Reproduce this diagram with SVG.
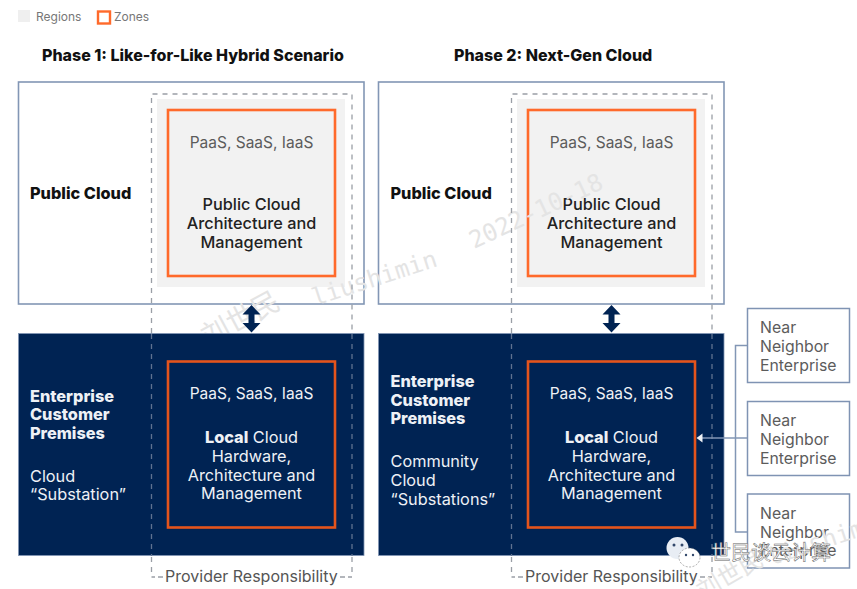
<svg xmlns="http://www.w3.org/2000/svg" width="857" height="589" viewBox="0 0 857 589">
<style>
text{font-family:"Inter","Liberation Sans",sans-serif;font-size:16.300px}
.c{text-anchor:middle}
.b{font-weight:800}
.ink{fill:#222;font-weight:500}
.grey{fill:#5c5c5c}
.w{fill:#eef1f6}
.svc{font-size:15.500px}
.nn{font-size:15.800px;fill:#5c5c5c}
.h{font-size:16px;font-weight:800;fill:#111}
.leg{font-size:12px;fill:#777}
.resp{font-size:16px;fill:#555}
.outer{fill:#fff;stroke:#8296b5;stroke-width:1.6}
.dark{fill:#002353;stroke:#8296b5;stroke-width:.8}
.region{fill:#f2f2f2}
.zone{fill:none;stroke:#ff6a2b;stroke-width:2.6}
.zoned{fill:none;stroke:#e4541c;stroke-width:2.6}
.dash{fill:none;stroke:#9a9fa6;stroke-width:1.3;stroke-dasharray:5 5}
.dashd{fill:none;stroke:#5f7290;stroke-width:1.3;stroke-dasharray:5 5}
.near{fill:#fff;stroke:#7f93b3;stroke-width:1.5}
.link{fill:none;stroke:#8296b5;stroke-width:1.5}
.mark{fill:#e4e4e4;font-family:"DejaVu Sans Mono","Noto Sans CJK SC",monospace;font-size:24px}
.dbl{fill:#002353}
</style>

<g id="legend">
<rect x="18" y="10" width="12" height="12" fill="#efefef"/>
<text class="leg" x="36" y="20.500">Regions</text>
<rect x="98" y="11.500" width="12" height="12" fill="#fff" stroke="#ff6a2b" stroke-width="2.400"/>
<text class="leg" x="114" y="20.500">Zones</text>
</g>

<text class="h" x="42" y="60.500">Phase 1: Like-for-Like Hybrid Scenario</text>
<text class="h" x="454" y="60.500">Phase 2: Next-Gen Cloud</text>

<g id="public-cloud-1">
<rect class="outer" x="18.500" y="82" width="345.500" height="222"/>
<rect class="region" x="157" y="99" width="188" height="188"/>
<rect class="zone" x="168" y="110" width="167" height="166"/>
<text class="b" fill="#111" x="30" y="198.500">Public Cloud</text>
<text class="c grey svc" x="251.500" y="147.500">PaaS, SaaS, IaaS</text>
<text class="c ink" x="251.500" y="209.500">Public Cloud</text>
<text class="c ink" x="251.500" y="229">Architecture and</text>
<text class="c ink" x="251.500" y="247.500">Management</text>
</g>

<g id="public-cloud-2">
<rect class="outer" x="378.500" y="82" width="345.500" height="222"/>
<rect class="region" x="517" y="99" width="188" height="188"/>
<rect class="zone" x="528" y="110" width="167" height="166"/>
<text class="b" fill="#111" x="390.500" y="198.500">Public Cloud</text>
<text class="c grey svc" x="611.500" y="147.500">PaaS, SaaS, IaaS</text>
<text class="c ink" x="611.500" y="209.500">Public Cloud</text>
<text class="c ink" x="611.500" y="229">Architecture and</text>
<text class="c ink" x="611.500" y="247.500">Management</text>
</g>

<!-- stamps sit under the navy panels, where they barely show -->
<g id="stamp-upper">
<text class="mark" style="font-size:28px" transform="translate(208 347) rotate(-28)">刘世民</text>
<text class="mark" transform="translate(315 306) rotate(-18)">liushimin</text>
<text class="mark" transform="translate(474 249) rotate(-25)">2022-10-18</text>
</g>

<g id="enterprise-1">
<rect class="dark" x="18.500" y="333.500" width="345.500" height="222"/>
<rect class="zoned" x="168" y="361.500" width="167" height="166"/>
<text class="b w" x="30" y="401.500">Enterprise</text>
<text class="b w" x="30" y="420">Customer</text>
<text class="b w" x="30" y="438.500">Premises</text>
<text class="w" x="30" y="481.500">Cloud</text>
<text class="w" x="30" y="500">“Substation”</text>
<text class="c w svc" x="251.500" y="399">PaaS, SaaS, IaaS</text>
<text class="c w" x="251.500" y="442.500"><tspan class="b">Local</tspan> Cloud</text>
<text class="c w" x="251.500" y="461.500">Hardware,</text>
<text class="c w" x="251.500" y="480.500">Architecture and</text>
<text class="c w" x="251.500" y="499">Management</text>
</g>

<g id="enterprise-2">
<rect class="dark" x="378.500" y="333.500" width="345.500" height="222"/>
<rect class="zoned" x="528" y="361.500" width="167" height="166"/>
<text class="b w" x="390.500" y="387">Enterprise</text>
<text class="b w" x="390.500" y="405.500">Customer</text>
<text class="b w" x="390.500" y="424">Premises</text>
<text class="w" x="390.500" y="467">Community</text>
<text class="w" x="390.500" y="486">Cloud</text>
<text class="w" x="390.500" y="504.500">“Substations”</text>
<text class="c w svc" x="611.500" y="399">PaaS, SaaS, IaaS</text>
<text class="c w" x="611.500" y="442.500"><tspan class="b">Local</tspan> Cloud</text>
<text class="c w" x="611.500" y="461.500">Hardware,</text>
<text class="c w" x="611.500" y="480.500">Architecture and</text>
<text class="c w" x="611.500" y="499">Management</text>
</g>

<g id="near-neighbor-1">
<rect class="near" x="747.500" y="308.500" width="102" height="74"/>
<text class="nn" x="760" y="333">Near</text><text class="nn" x="760" y="352">Neighbor</text><text class="nn" x="760" y="371">Enterprise</text>
</g>
<g id="near-neighbor-2">
<rect class="near" x="747.500" y="401.500" width="102" height="74"/>
<text class="nn" x="760" y="426">Near</text><text class="nn" x="760" y="444.500">Neighbor</text><text class="nn" x="760" y="463.500">Enterprise</text>
</g>
<g id="near-neighbor-3">
<rect class="near" x="747.500" y="494" width="102" height="74"/>
<text class="nn" x="760" y="519">Near</text><text class="nn" x="760" y="537.500">Neighbor</text><text class="nn" x="760" y="556">Enterprise</text>
</g>

<g id="connectors">
<!-- provider responsibility brackets: grey on the light panels, muted blue on the navy ones -->
<path class="dash" d="M151.500 333V94H352V333M511.500 333V94H712V333"/>
<path class="dashd" d="M151.500 334V556M352 334V556M511.500 334V556M712 334V556"/>
<path class="dash" d="M151.500 557V572M352 557V572M511.500 557V572M712 557V572"/>
<path d="M151.500 577H155M158 577H163M340 577H345M348 577H352M511.500 577H515M518 577H523M700 577H705M708 577H712" fill="none" stroke="#9a9fa6" stroke-width="1.300"/>
<path class="link" d="M747 345.500H735.500V532H747"/>
<path class="link" d="M747 438H702"/>
<path d="M696.500 438L702.500 433.500V442.500Z" fill="#eef1f6"/>
<path class="dbl" d="M251.500 305L260.500 314.500H254.500V323H260.500L251.500 332.500L242.500 323H248.500V314.500H242.500Z"/>
<path class="dbl" d="M611.500 305L620.500 314.500H614.500V323H620.500L611.500 332.500L602.500 323H608.500V314.500H602.500Z"/>
</g>

<text class="resp" x="165" y="582">Provider Responsibility</text>
<text class="resp" x="525" y="582">Provider Responsibility</text>

<g id="stamp-lower">
<text class="mark" transform="translate(770 566) rotate(-18)">liushimin</text>
<text class="mark" transform="translate(703 600) rotate(-30)">刘世民</text>
</g>
<g id="wechat-mark">
<ellipse cx="677.500" cy="548" rx="11" ry="11" fill="#e8edf4"/>
<ellipse cx="689.500" cy="557.500" rx="10.500" ry="9.500" fill="#fff" stroke="#777" stroke-width=".6" stroke-dasharray="2 1.500"/>
<circle cx="674" cy="545" r="1.500" fill="#33486b"/><circle cx="682" cy="545" r="1.500" fill="#33486b"/>
<circle cx="686" cy="555" r="1.200" fill="#33486b"/><circle cx="693" cy="555" r="1.200" fill="#33486b"/>
<text x="711" y="560" style="font-family:'Noto Sans CJK SC',sans-serif;font-size:20px" fill="#fff" stroke="#666" stroke-width=".5">世民谈云计算</text>
</g>
</svg>
